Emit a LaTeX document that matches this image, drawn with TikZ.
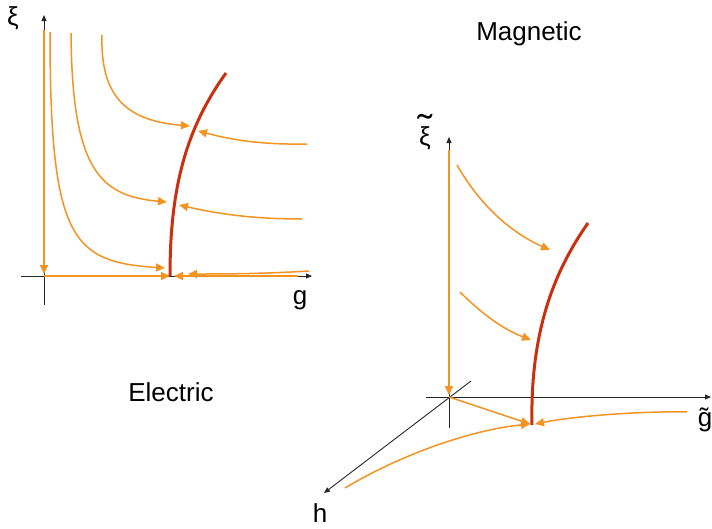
\documentclass[tikz,border=0pt]{standalone}
\usepackage{fontspec}
\setmainfont{Liberation Sans}
\usetikzlibrary{arrows.meta}
\definecolor{flowor}{HTML}{F39322}
\definecolor{fixred}{HTML}{C9300F}
\newcommand{\tildexi}{\ooalign{ξ\cr\hidewidth\raisebox{0.2em}{\scalebox{1.7}[1.4]{\char"02DC}}\hidewidth\cr}}

\begin{document}
\begin{tikzpicture}[x=1pt, y=-1pt,
  axis/.style ={line width=0.9pt, black!85, -{Triangle[length=6pt,width=5pt]}},
  flow/.style ={line width=1.5pt, flowor, -{Triangle[length=9pt,width=8pt]}},
  fixline/.style={line width=3pt, fixred},
  lbl/.style  ={font=\fontsize{26}{30}\selectfont},
]
\useasboundingbox (0,0) rectangle (712,528);

% ---------------- electric: flows in the (g, xi) plane ----------------
\coordinate (eo)   at (44,276);
\coordinate (exl)  at (21,276);
\coordinate (exr)  at (312,276);
\coordinate (eyb)  at (44,305);
\coordinate (eyt)  at (44,15);
\draw[axis] (exl) -- (exr);
\draw[axis] (eyb) -- (eyt);
\node[lbl] (exi) at (13,18)  {ξ};
\node[lbl] (eg)  at (300,300) {g};

\coordinate (efix) at (170,276);
\coordinate (etop) at (226,73);
\draw[flow] (44,30) -- (44,274);
\draw[flow] (eo) -- (efix);
\draw[flow] (298,276) -- (174,276);
\draw[flow] (309,271) .. controls (260,274) and (220,274) .. (188,274);
\draw[flow] (50,32)  .. controls (50,240) and (72,262) .. (165,268);
\draw[flow] (71,33)  .. controls (72,170) and (100,196) .. (167,202);
\draw[flow] (102,35) .. controls (100,100) and (130,121) .. (190,126);
\draw[flow] (307,144) .. controls (255,145) and (225,138) .. (198,131);
\draw[flow] (302,219) .. controls (245,219) and (210,212) .. (179,205);
\draw[fixline] (efix) .. controls (170,190) and (185,130) .. (etop);
\node[lbl] (elec) at (171,392) {Electric};

% ---------------- magnetic: flows with the extra h direction ----------------
\coordinate (mo)  at (449,397);
\coordinate (mxl) at (426,397);
\coordinate (mxr) at (711,397);
\coordinate (myb) at (449,428);
\coordinate (myt) at (449,137);
\coordinate (mhb) at (471,381);
\coordinate (mht) at (324,493);
\draw[axis] (mxl) -- (mxr);
\draw[axis] (myb) -- (myt);
\draw[axis] (mhb) -- (mht);
\node[lbl] (mxi) at (425,136) {\tildexi};
\node[lbl] (mg)  at (705,420) {g̃};
\node[lbl] (mh)  at (320,513) {h};

\coordinate (mfix) at (532,425);
\coordinate (mtop) at (588,223);
\draw[flow] (449,150) -- (449,395);
\draw[flow] (mo) -- (530,424);
\draw[flow] (457,165) .. controls (480,205) and (510,232) .. (550,250);
\draw[flow] (460,292) .. controls (478,310) and (500,328) .. (531,340);
\draw[flow] (345,488) .. controls (400,455) and (470,430) .. (530,424);
\draw[flow] (687,412) .. controls (650,411) and (580,415) .. (535,424);
\draw[fixline] (mfix) .. controls (530,330) and (555,270) .. (mtop);
\node[lbl] (magn) at (529,34) {Magnetic};
\end{tikzpicture}
\end{document}
